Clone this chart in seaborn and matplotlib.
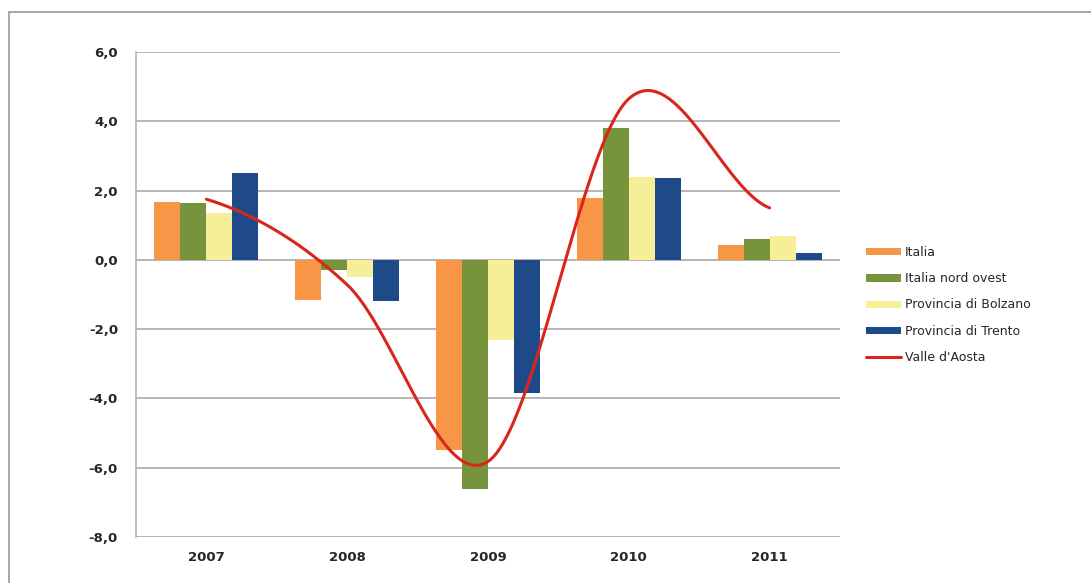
import numpy as np
import pandas as pd
import matplotlib
matplotlib.use("Agg")
import matplotlib.pyplot as plt
from matplotlib.patches import Rectangle
import seaborn as sns

# Dati
anni = ["2007", "2008", "2009", "2010", "2011"]
italia = [1.67, -1.15, -5.5, 1.8, 0.43]
italia_nord_ovest = [1.65, -0.3, -6.6, 3.8, 0.6]
bolzano = [1.36, -0.5, -2.3, 2.4, 0.7]
trento = [2.5, -1.2, -3.85, 2.35, 0.2]
valle_aosta = [1.75, -0.72, -5.82, 4.65, 1.5]

serie_barre = ["Italia", "Italia nord ovest", "Provincia di Bolzano", "Provincia di Trento"]
colori = ["#F79646", "#77933C", "#F7EE98", "#1F4A8A"]
colore_linea = "#D9261C"

df = pd.DataFrame({
    "anno": anni * 4,
    "valore": italia + italia_nord_ovest + bolzano + trento,
    "serie": [s for s in serie_barre for _ in anni],
})


def catmull_rom(y, n=60):
    """Curva levigata (stile Excel) passante per i punti."""
    y = np.asarray(y, dtype=float)
    p = np.concatenate([[y[0]], y, [y[-1]]])
    xs, ys = [], []
    for i in range(len(y) - 1):
        p0, p1, p2, p3 = p[i], p[i + 1], p[i + 2], p[i + 3]
        c1 = p1 + (p2 - p0) / 6
        c2 = p2 - (p3 - p1) / 6
        t = np.linspace(0, 1, n)
        b = ((1 - t) ** 3) * p1 + 3 * ((1 - t) ** 2) * t * c1 + 3 * (1 - t) * t ** 2 * c2 + t ** 3 * p2
        xs.append(i + t)
        ys.append(b)
    return np.concatenate(xs), np.concatenate(ys)


sns.set_style("white")
plt.rcParams["font.family"] = ["DejaVu Sans"]

fig = plt.figure(figsize=(10.91, 5.83), dpi=100)
ax = fig.add_axes([136 / 1091, 1 - 537 / 583, (840 - 136) / 1091, (537 - 52) / 583])

sns.barplot(data=df, x="anno", y="valore", hue="serie", palette=colori,
            width=0.74, gap=0, linewidth=0, saturation=1, ax=ax, zorder=2)

xl, yl = catmull_rom(valle_aosta)
ax.plot(xl, yl, color=colore_linea, lw=2.2, label="Valle d'Aosta", zorder=3)

ax.set_ylim(-8, 6)
ax.set_xlim(-0.5, 4.5)
yt = np.arange(-8, 6.1, 2)
ax.set_yticks(yt)
ax.set_yticklabels([f"{v:.1f}".replace(".", ",") for v in yt], fontsize=9.5, fontweight="bold")
ax.set_xticks(range(len(anni)))
ax.set_xticklabels(anni, fontsize=9.5, fontweight="bold")
ax.set_xlabel("")
ax.set_ylabel("")

ax.yaxis.grid(True, color="#B5B5B5", lw=1.4)
ax.set_axisbelow(True)
for s in ["top", "right", "bottom"]:
    ax.spines[s].set_visible(False)
ax.spines["left"].set_color("#B5B5B5")
ax.spines["left"].set_linewidth(1.2)
ax.tick_params(axis="y", length=5, color="#B5B5B5", width=1.2, pad=8)
ax.tick_params(axis="x", length=0, pad=10)
ax.axhline(0, color="#B5B5B5", lw=1.4, zorder=1)

handles, labels = ax.get_legend_handles_labels()
ax.legend(handles, labels, loc="center left", bbox_to_anchor=(866 / 1091, 1 - 305 / 583),
          bbox_transform=fig.transFigure, frameon=False, fontsize=9,
          handlelength=2.8, handleheight=0.5, handletextpad=0.3,
          labelspacing=1.05, borderpad=0, borderaxespad=0)

fig.add_artist(Rectangle((9 / 1091, -0.2), 1.5, 1.2 - 12 / 583, transform=fig.transFigure,
                         fill=False, edgecolor="#A0A0A0", lw=1.3))

fig.savefig("out.png", dpi=100, facecolor="white")
